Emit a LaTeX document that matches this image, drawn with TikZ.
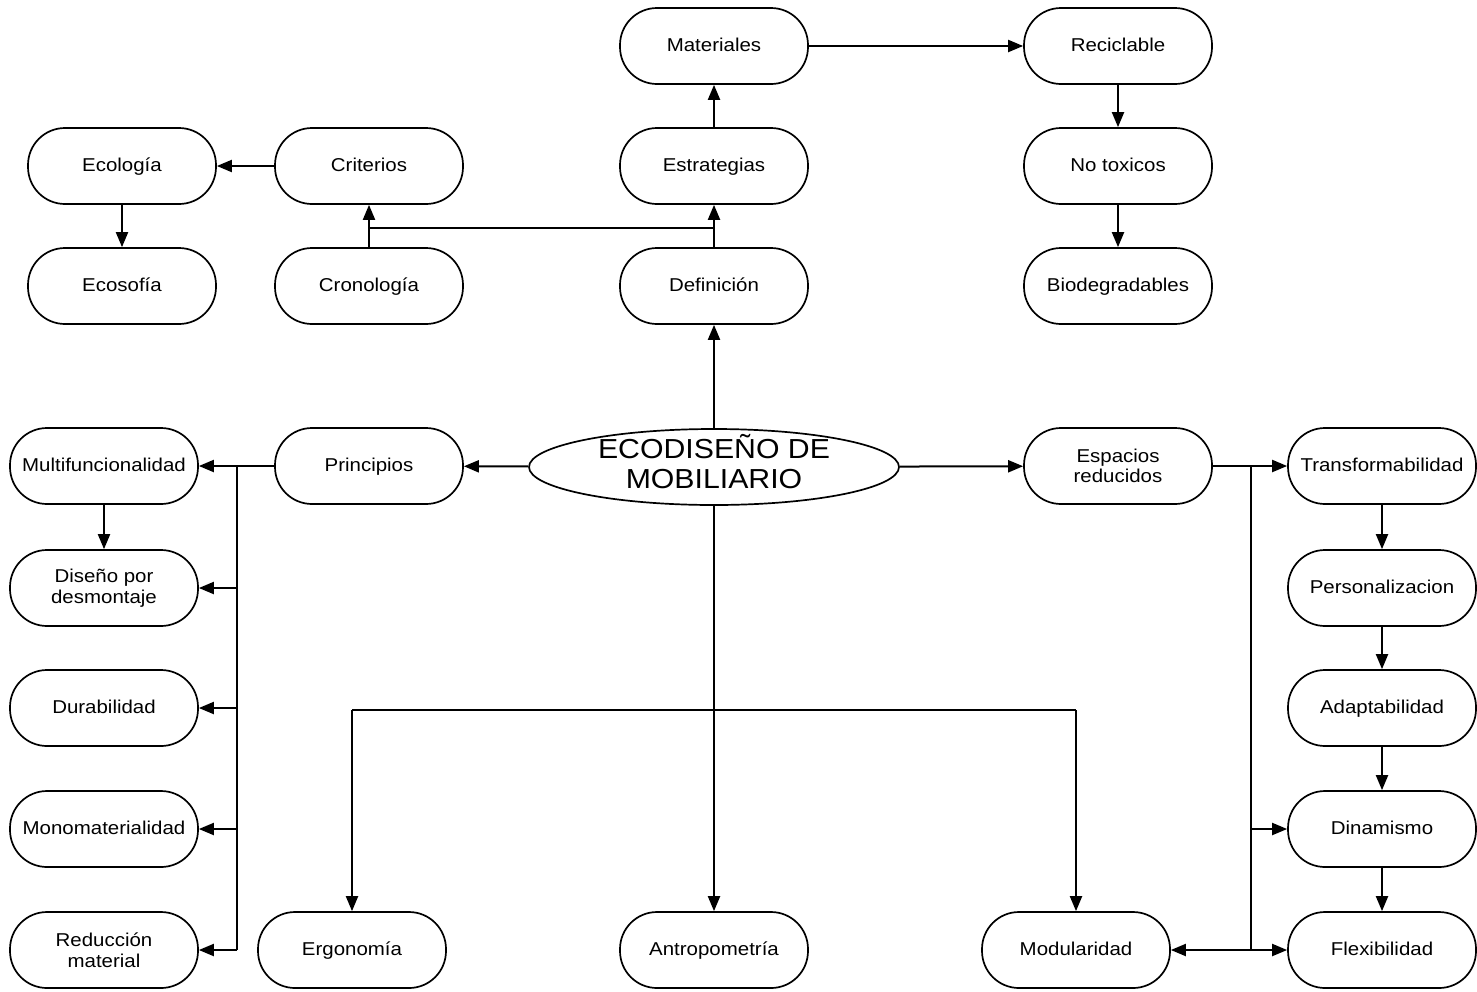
\documentclass[tikz,border=0pt]{standalone}
\usepackage{fontspec}
\setmainfont{Liberation Sans}[FakeStretch=1.1]
\usetikzlibrary{arrows.meta,shapes.geometric}
\begin{document}
\begin{tikzpicture}[x=1pt,y=-1pt,
  pillbase/.style={draw, line width=1.7pt, rounded corners=37pt, minimum width=188pt,
    minimum height=76pt, inner sep=0pt, align=center,
    font=\fontsize{18.6}{20.5}\selectfont},
  pill/.style={pillbase, text height=13.6pt, text depth=3.6pt},
  pilltwo/.style={pillbase},
  core/.style={draw, ellipse, line width=1.7pt, minimum width=370pt,
    minimum height=76pt, inner sep=0pt},
  title/.style={align=center, font=\fontsize{27.5}{30}\selectfont, inner sep=0pt},
  conn/.style={line width=2pt, -{Triangle[length=15pt,width=12pt]}},
  wire/.style={line width=2pt}]
\useasboundingbox (0,0) rectangle (1477,991);

% top branch
\node[pill] (mat) at (714,46)  {Materiales};
\node[pill] (rec) at (1118,46) {Reciclable};
\node[pill] (eco) at (122,166) {Ecología};
\node[pill] (cri) at (369,166) {Criterios};
\node[pill] (est) at (714,166) {Estrategias};
\node[pill] (tox) at (1118,166) {No toxicos};
\node[pill] (ecs) at (122,286) {Ecosofía};
\node[pill] (cro) at (369,286) {Cronología};
\node[pill] (def) at (714,286) {Definición};
\node[pill] (bio) at (1118,286) {Biodegradables};

% central concept
\node[core] (main) at (714,467) {};
\node[title] (maintxt) at (714,462) {ECODISEÑO DE\\MOBILIARIO};

% middle row
\node[pill] (mul) at (104,466)  {Multifuncionalidad};
\node[pill] (pri) at (369,466)  {Principios};
\node[pilltwo] (esp) at (1118,466) {Espacios\\reducidos};
\node[pill] (tra) at (1382,466) {Transformabilidad};

% left column
\node[pilltwo] (dis) at (104,588) {Diseño por\\desmontaje};
\node[pill] (dur) at (104,708) {Durabilidad};
\node[pill] (mon) at (104,829) {Monomaterialidad};
\node[pilltwo] (red) at (104,950) {Reducción\\material};

% right column
\node[pill] (per) at (1382,588) {Personalizacion};
\node[pill] (ada) at (1382,708) {Adaptabilidad};
\node[pill] (din) at (1382,829) {Dinamismo};
\node[pill] (fle) at (1382,950) {Flexibilidad};

% bottom row
\node[pill] (erg) at (352,950)  {Ergonomía};
\node[pill] (ant) at (714,950)  {Antropometría};
\node[pill] (mod) at (1076,950) {Modularidad};

% junction points
\coordinate (j1) at (369,228);
\coordinate (j2) at (714,228);
\coordinate (bl) at (352,710);
\coordinate (br) at (1076,710);
\coordinate (lt) at (237,466);
\coordinate (lb) at (237,950);
\coordinate (rt) at (1251,466);
\coordinate (rb) at (1251,950);

% top connectors
\draw[conn] (mat) -- (rec);
\draw[conn] (rec) -- (tox);
\draw[conn] (tox) -- (bio);
\draw[conn] (est) -- (mat);
\draw[conn] (cri) -- (eco);
\draw[conn] (eco) -- (ecs);
\draw[conn] (cro) -- (cri);
\draw[conn] (def) -- (est);
\draw[wire] (j1) -- (j2);

% from the central concept
\draw[conn] (main) -- (def);
\draw[conn] (main) -- (pri);
\draw[conn] (main) -- (esp);
\draw[conn] (main) -- (ant);
\draw[wire] (bl) -- (br);
\draw[conn] (bl) -- (erg);
\draw[conn] (br) -- (mod);

% principles bus
\draw[conn] (pri) -- (mul);
\draw[wire] (lt) -- (lb);
\draw[conn] (lt |- dis) -- (dis);
\draw[conn] (lt |- dur) -- (dur);
\draw[conn] (lt |- mon) -- (mon);
\draw[conn] (lb) -- (red);
\draw[conn] (mul) -- (dis);

% reduced spaces bus
\draw[conn] (esp) -- (tra);
\draw[wire] (rt) -- (rb);
\draw[conn] (rt |- din) -- (din);
\draw[conn] (rb) -- (fle);
\draw[conn] (rb) -- (mod);
\draw[conn] (tra) -- (per);
\draw[conn] (per) -- (ada);
\draw[conn] (ada) -- (din);
\draw[conn] (din) -- (fle);
\end{tikzpicture}
\end{document}
